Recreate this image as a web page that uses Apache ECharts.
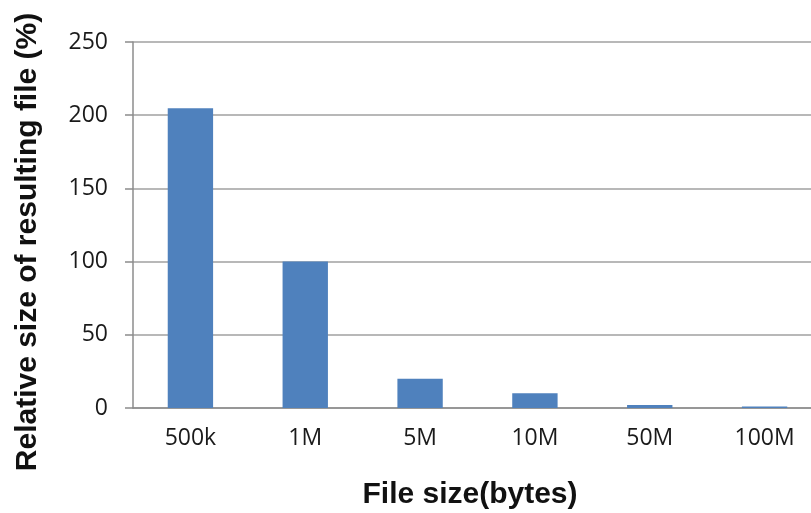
<!DOCTYPE html>
<html>
<head>
<meta charset="utf-8">
<script src="https://cdn.jsdelivr.net/npm/echarts@6/dist/echarts.min.js"></script>
<style>
  html, body { margin: 0; padding: 0; background: #fff; overflow: hidden; }
  /* the plot area runs a little past the right edge of the window */
  #chart { width: 822px; height: 513px; }
</style>
</head>
<body>
<div id="chart"></div>
<script>
// File sizes tested and the relative size of the output file for each
const categories = ['500k', '1M', '5M', '10M', '50M', '100M'];
const relativeSize = [204.8, 100, 20, 10, 2, 1];
const yTicks = { min: 0, max: 250, interval: 50 };

const chart = echarts.init(document.getElementById('chart'));
chart.setOption({
  animation: false,
  grid: { left: 133, right: 0, top: 42, bottom: 105, containLabel: false },
  xAxis: {
    type: 'category',
    data: categories,
    axisLine: { lineStyle: { color: '#8c8c8c', width: 1.5 } },
    axisTick: { show: false },
    axisLabel: { color: '#1a1a1a', fontFamily: 'Open Sans', fontSize: 23, margin: 19 }
  },
  yAxis: {
    type: 'value',
    min: yTicks.min,
    max: yTicks.max,
    interval: yTicks.interval,
    axisLine: { show: true, lineStyle: { color: '#8c8c8c', width: 1.5 } },
    axisTick: { show: true, length: 8, lineStyle: { color: '#8c8c8c', width: 1.5 } },
    axisLabel: { color: '#1a1a1a', fontFamily: 'Open Sans', fontSize: 23, margin: 25 },
    splitLine: { lineStyle: { color: '#a0a0a0', width: 1.5 } }
  },
  series: [{
    type: 'bar',
    data: relativeSize,
    barWidth: '39.5%',
    itemStyle: { color: '#4f81bd' }
  }],
  graphic: [
    {
      type: 'text',
      x: 470, y: 495,
      style: {
        text: 'File size(bytes)',
        font: 'bold 30px "Liberation Sans", Arial, sans-serif',
        fill: '#111',
        x: 0, y: 0,
        align: 'center',
        verticalAlign: 'middle'
      }
    },
    {
      type: 'text',
      x: 28, y: 242,
      rotation: Math.PI / 2,
      style: {
        text: 'Relative size of resulting file (%)',
        font: 'bold 30px "Liberation Sans", Arial, sans-serif',
        fill: '#111',
        x: 0, y: 0,
        align: 'center',
        verticalAlign: 'middle'
      }
    }
  ]
});
</script>
</body>
</html>
